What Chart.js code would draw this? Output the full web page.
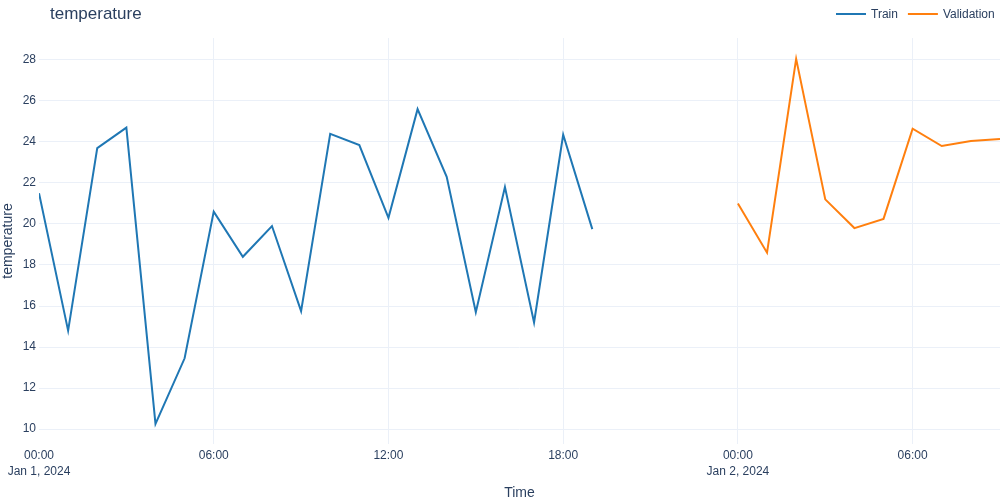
<!DOCTYPE html>
<html>
<head>
<meta charset="utf-8">
<script src="https://cdn.jsdelivr.net/npm/chart.js@4.4.1/dist/chart.umd.min.js"></script>
<style>
  html, body { margin: 0; padding: 0; background: #fff; }
  #wrap { width: 1000px; height: 500px; position: relative; }
</style>
</head>
<body>
<div id="wrap"><canvas id="myChart"></canvas></div>
<script>
// hours since Jan 1, 2024 00:00
var trainHours = [0, 1, 2, 3, 4, 5, 6, 7, 8, 9, 10, 11, 12, 13, 14, 15, 16, 17, 18, 19];
var trainTemps = [21.5, 14.8, 23.7, 24.7, 10.25, 13.45, 20.6, 18.4, 19.9, 15.75,
                  24.4, 23.85, 20.3, 25.6, 22.3, 15.7, 21.8, 15.2, 24.35, 19.75];
var validHours = [24, 25, 26, 27, 28, 29, 30, 31, 32, 33];
var validTemps = [21.0, 18.6, 28.05, 21.2, 19.8, 20.25, 24.65, 23.8, 24.05, 24.15];
var dayLabels = ['Jan 1, 2024', 'Jan 2, 2024'];
var seriesNames = ['Train', 'Validation'];
var seriesColors = ['#1f77b4', '#ff7f0e'];

var textColor = '#2a3f5f';
var gridColor = '#ebf0f8';
var fontFamily = '"Liberation Sans", Arial, sans-serif';

function toPoints(xs, ys) {
    var pts = [];
    for (let i = 0; i < xs.length; i++) {
        pts.push({x: xs[i], y: ys[i]});
    }
    return pts;
}

function pad2(n) {
    return (n < 10 ? '0' : '') + n;
}

// title and legend drawn in the top strip, plotly-like
var headerPlugin = {
    id: 'header',
    afterDraw: function(chart) {
        var ctx = chart.ctx;
        ctx.save();
        ctx.fillStyle = textColor;
        ctx.textBaseline = 'middle';
        ctx.textAlign = 'left';
        ctx.font = '17px ' + fontFamily;
        ctx.fillText('temperature', 50, 14);

        ctx.font = '12px ' + fontFamily;
        var x = 836;
        for (let i = 0; i < seriesNames.length; i++) {
            ctx.strokeStyle = seriesColors[i];
            ctx.lineWidth = 2;
            ctx.beginPath();
            ctx.moveTo(x, 14);
            ctx.lineTo(x + 30, 14);
            ctx.stroke();
            ctx.fillText(seriesNames[i], x + 35, 15);
            x += 35 + ctx.measureText(seriesNames[i]).width + 10;
        }
        ctx.restore();
    }
};

var ctx = document.getElementById('myChart').getContext('2d');
var myChart = new Chart(ctx, {
    type: 'line',
    data: {
        datasets: [{
            label: seriesNames[0],
            data: toPoints(trainHours, trainTemps),
            borderColor: seriesColors[0],
            backgroundColor: seriesColors[0],
            borderWidth: 2,
            pointRadius: 0,
            tension: 0
        }, {
            label: seriesNames[1],
            data: toPoints(validHours, validTemps),
            borderColor: seriesColors[1],
            backgroundColor: seriesColors[1],
            borderWidth: 2,
            pointRadius: 0,
            tension: 0
        }]
    },
    options: {
        responsive: true,
        maintainAspectRatio: false,
        animation: false,
        layout: { padding: { top: 38, right: 0, left: 0, bottom: 0 } },
        plugins: {
            legend: { display: false },
            title: { display: false },
            tooltip: { enabled: false }
        },
        scales: {
            x: {
                type: 'linear',
                min: 0,
                max: 33,
                border: { display: false },
                grid: {
                    color: function(c) { return c.tick && c.tick.value === 0 ? 'rgba(0,0,0,0)' : gridColor; },
                    drawTicks: false
                },
                ticks: {
                    stepSize: 6,
                    includeBounds: false,
                    maxRotation: 0,
                    autoSkip: false,
                    padding: 4,
                    color: textColor,
                    font: { family: fontFamily, size: 12, lineHeight: 1.3 },
                    callback: function(v) {
                        var h = v % 24;
                        var label = pad2(h) + ':00';
                        if (h === 0) {
                            return [label, dayLabels[Math.floor(v / 24)]];
                        }
                        return label;
                    }
                },
                title: {
                    display: true,
                    text: 'Time',
                    color: textColor,
                    font: { family: fontFamily, size: 14 },
                    padding: { top: 0, bottom: -2 }
                },
                afterFit: function(scale) { scale.height = 56; }
            },
            y: {
                min: 9.27,
                max: 29.07,
                border: { display: false },
                grid: { color: gridColor, drawTicks: false },
                ticks: {
                    stepSize: 2,
                    includeBounds: false,
                    padding: 3,
                    color: textColor,
                    font: { family: fontFamily, size: 12 }
                },
                title: {
                    display: true,
                    text: 'temperature',
                    color: textColor,
                    font: { family: fontFamily, size: 14 },
                    padding: 0
                },
                afterFit: function(scale) { scale.width = 39; }
            }
        }
    },
    plugins: [headerPlugin]
});
</script>
</body>
</html>
